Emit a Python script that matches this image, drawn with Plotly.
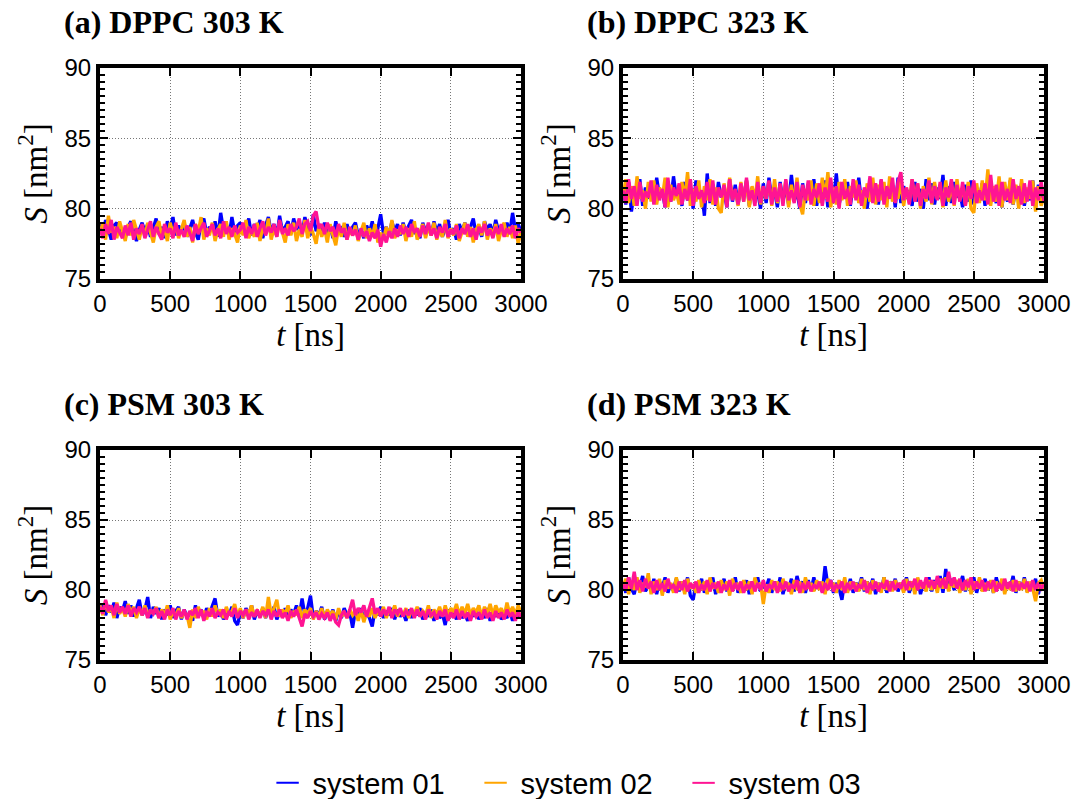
import plotly.graph_objects as go

# Sampling times of the area trajectories (ns)
t_ns = list(range(0, 3001, 20))

# ---- (a) DPPC 303 K : membrane area S [nm^2] ----
dppc303_sys01 = [
    78.9, 78.1, 79.2, 78.4, 77.8, 78.8, 79.0, 78.2, 78.6, 77.9,
    78.7, 79.1, 78.3, 77.7, 78.5, 79.0, 78.4, 78.9, 78.0, 78.6,
    79.3, 78.2, 78.7, 77.9, 79.1, 78.5, 79.4, 78.1, 78.8, 78.3,
    79.0, 78.0, 78.6, 79.2, 78.3, 77.8, 78.9, 79.3, 78.2, 78.7,
    78.4, 79.1, 78.0, 79.7, 78.5, 78.9, 78.1, 79.4, 78.3, 78.8,
    79.0, 78.2, 78.7, 79.3, 78.1, 78.9, 78.5, 79.2, 77.9, 78.8,
    79.4, 78.3, 78.9, 78.1, 79.5, 78.4, 78.7, 79.1, 78.2, 79.3,
    78.5, 79.0, 78.3, 79.4, 78.6, 78.1, 79.6, 78.4, 78.9, 78.2,
    79.0, 78.3, 78.8, 77.9, 79.1, 78.4, 78.6, 78.0, 78.9, 78.2,
    78.7, 79.0, 78.1, 78.5, 77.9, 78.8, 78.3, 79.1, 78.0, 78.6,
    79.6, 78.2, 78.7, 78.0, 79.1, 78.4, 78.9, 78.1, 79.0, 78.3,
    78.8, 79.2, 78.2, 78.6, 77.9, 79.0, 78.4, 78.8, 78.1, 79.1,
    78.3, 78.9, 78.0, 78.7, 79.2, 78.2, 78.6, 77.8, 78.9, 78.4,
    79.0, 78.1, 78.8, 79.3, 78.2, 78.7, 78.0, 79.1, 78.5, 78.9,
    78.2, 79.2, 78.4, 78.8, 78.1, 79.0, 78.3, 79.7, 78.5, 78.9,
    78.4]
dppc303_sys02 = [
    78.2, 79.0, 77.8, 79.5, 78.3, 78.7, 77.9, 79.1, 78.4, 77.7,
    78.9, 78.1, 79.2, 78.5, 77.8, 78.8, 78.0, 79.0, 78.3, 77.6,
    78.7, 79.1, 78.0, 78.6, 77.7, 79.0, 78.2, 78.8, 77.9, 78.5,
    79.2, 78.0, 78.7, 77.6, 78.9, 78.3, 79.4, 77.8, 78.6, 78.1,
    79.0, 77.7, 78.5, 78.9, 78.0, 79.1, 77.8, 78.6, 78.2, 77.6,
    78.8, 78.1, 79.2, 77.9, 78.5, 78.0, 79.0, 77.7, 78.7, 78.2,
    79.3, 77.8, 78.6, 78.0, 79.1, 78.3, 77.6, 78.9, 78.1, 79.0,
    77.7, 78.5, 78.0, 79.2, 77.9, 78.7, 78.2, 77.5, 78.8, 78.0,
    78.6, 77.6, 78.9, 78.1, 77.4, 78.7, 78.0, 79.0, 77.8, 78.5,
    78.1, 78.8, 77.7, 78.4, 79.0, 77.9, 78.6, 78.0, 78.9, 77.6,
    78.3, 77.8, 78.7, 78.0, 79.2, 77.9, 78.5, 78.2, 78.9, 77.7,
    78.6, 78.0, 79.1, 77.8, 78.4, 78.9, 77.9, 78.7, 78.1, 79.0,
    77.8, 78.5, 78.0, 79.2, 77.9, 78.6, 78.1, 78.9, 77.7, 78.4,
    79.0, 78.0, 78.7, 77.6, 78.5, 78.9, 78.1, 79.1, 77.8, 78.6,
    78.2, 78.9, 77.7, 78.5, 79.0, 78.0, 78.7, 77.9, 78.8, 77.5,
    78.4]
dppc303_sys03 = [
    78.6, 77.9, 78.9, 78.2, 79.2, 77.8, 78.7, 78.3, 77.9, 78.8,
    78.1, 79.0, 77.8, 78.6, 78.2, 78.9, 77.9, 78.5, 79.1, 78.0,
    78.7, 78.2, 77.8, 78.9, 78.3, 78.6, 77.9, 79.0, 78.1, 78.5,
    78.0, 78.8, 78.3, 77.7, 78.9, 78.2, 78.6, 79.0, 78.0, 78.5,
    78.9, 78.1, 78.6, 77.9, 79.1, 78.2, 78.7, 78.0, 78.8, 78.3,
    78.5, 79.0, 77.9, 78.7, 78.2, 78.9, 78.0, 78.6, 79.1, 78.1,
    78.7, 78.3, 78.9, 78.0, 79.2, 78.2, 78.6, 78.1, 78.9, 78.4,
    78.7, 79.3, 78.2, 78.9, 79.1, 78.4, 79.5, 79.8, 78.6, 78.9,
    78.2, 79.0, 78.4, 78.7, 78.0, 78.9, 78.3, 78.6, 77.8, 78.7,
    78.1, 78.5, 77.8, 78.6, 78.0, 78.4, 77.7, 78.3, 77.9, 78.5,
    77.3, 78.2, 77.6, 78.4, 77.9, 78.6, 78.0, 78.8, 78.2, 78.7,
    78.0, 78.9, 78.3, 78.6, 78.0, 78.8, 78.2, 79.0, 78.1, 78.6,
    77.9, 78.7, 78.3, 78.9, 78.0, 78.5, 78.2, 78.8, 77.9, 78.6,
    78.2, 78.9, 78.0, 78.6, 77.8, 78.7, 78.3, 78.9, 78.1, 78.5,
    77.9, 78.7, 78.2, 78.9, 78.0, 78.6, 78.2, 78.8, 77.9, 78.6,
    78.3]

# ---- (b) DPPC 323 K ----
dppc323_sys01 = [
    81.4, 80.3, 81.9, 79.8, 81.2, 80.6, 82.1, 80.2, 81.5, 80.7,
    81.8, 80.4, 82.2, 80.9, 81.3, 80.1, 81.7, 80.5, 82.3, 80.8,
    81.1, 80.2, 81.9, 80.6, 81.4, 80.0, 82.0, 80.7, 81.2, 79.5,
    82.5, 80.4, 81.6, 80.2, 81.9, 80.8, 81.3, 80.1, 82.1, 80.5,
    81.7, 80.3, 81.4, 80.9, 82.0, 80.2, 81.5, 80.6, 81.2, 80.0,
    81.8, 80.4, 82.2, 80.7, 81.3, 80.1, 81.9, 80.5, 81.6, 80.3,
    82.4, 80.6, 81.2, 80.0, 81.8, 80.4, 81.5, 80.8, 82.1, 80.2,
    81.4, 80.5, 82.0, 80.1, 81.7, 80.6, 82.5, 80.3, 81.3, 80.7,
    81.9, 80.2, 81.6, 80.8, 82.2, 80.4, 81.3, 80.0, 81.8, 80.6,
    81.5, 80.3, 82.0, 80.5, 81.2, 80.9, 81.7, 80.1, 82.2, 80.4,
    81.6, 80.7, 81.3, 80.2, 81.9, 80.5, 81.4, 80.0, 82.1, 80.6,
    81.8, 80.3, 81.5, 80.7, 82.4, 80.2, 81.6, 80.4, 81.9, 80.8,
    81.2, 80.1, 81.7, 80.5, 82.0, 80.3, 81.4, 80.7, 81.8, 80.2,
    82.1, 80.6, 81.3, 80.4, 81.9, 80.1, 81.6, 80.5, 82.0, 80.3,
    81.5, 80.7, 81.8, 80.2, 81.4, 80.6, 82.0, 80.1, 81.7, 80.4,
    81.2]
dppc323_sys02 = [
    80.8, 82.1, 80.4, 81.6, 80.2, 82.3, 80.7, 81.3, 80.0, 81.9,
    80.5, 82.0, 80.3, 81.5, 80.8, 82.2, 80.1, 81.7, 80.6, 81.2,
    80.3, 81.9, 80.7, 82.6, 80.2, 81.4, 80.5, 82.0, 80.1, 81.6,
    80.6, 82.1, 80.3, 81.5, 80.0, 79.7, 81.8, 80.4, 82.2, 80.7,
    81.3, 80.2, 81.9, 80.5, 82.0, 80.1, 81.6, 80.6, 82.3, 80.3,
    81.5, 80.7, 81.9, 80.2, 82.1, 80.4, 81.3, 80.8, 82.0, 80.1,
    81.7, 80.5, 82.2, 80.3, 79.6, 81.4, 80.6, 82.0, 80.2, 81.8,
    80.4, 82.2, 80.7, 82.6, 80.1, 81.5, 80.3, 81.9, 80.6, 82.1,
    80.2, 81.6, 80.8, 82.0, 80.4, 81.3, 80.0, 81.8, 80.5, 82.2,
    80.3, 81.7, 80.6, 81.9, 80.1, 82.3, 80.5, 81.4, 80.7, 82.0,
    80.2, 81.5, 80.4, 82.1, 80.6, 81.8, 80.0, 81.6, 80.5, 82.2,
    80.3, 81.9, 80.7, 81.4, 80.1, 82.0, 80.5, 81.7, 80.2, 82.1,
    80.6, 81.5, 80.3, 81.9, 80.0, 79.7, 81.8, 80.4, 82.0, 80.6,
    82.8, 80.2, 81.6, 80.5, 82.3, 80.1, 81.9, 80.6, 82.2, 80.3,
    81.7, 80.0, 82.1, 80.4, 81.5, 80.7, 82.0, 79.8, 81.6, 80.2,
    80.9]
dppc323_sys03 = [
    81.3, 80.4, 82.1, 80.7, 81.6, 80.2, 81.9, 80.5, 81.2, 80.8,
    82.0, 80.3, 81.7, 80.6, 81.4, 80.1, 82.2, 80.5, 81.5, 80.9,
    81.8, 80.3, 81.4, 80.6, 82.1, 80.2, 81.6, 80.7, 81.3, 80.4,
    81.9, 80.5, 82.0, 80.3, 81.5, 80.8, 81.7, 80.1, 82.1, 80.6,
    81.4, 80.3, 81.8, 80.5, 82.2, 80.6, 81.3, 80.2, 81.9, 80.4,
    81.6, 80.7, 82.0, 80.3, 81.5, 80.5, 81.8, 80.2, 82.1, 80.6,
    81.3, 80.4, 81.9, 80.1, 81.7, 80.6, 82.0, 80.3, 81.4, 80.8,
    81.8, 80.2, 81.5, 80.5, 82.2, 80.4, 81.6, 80.0, 81.9, 80.7,
    81.4, 80.3, 82.1, 80.6, 81.7, 80.2, 81.5, 80.8, 82.3, 80.4,
    81.8, 80.5, 82.1, 80.3, 81.6, 80.7, 82.2, 80.4, 81.9, 82.6,
    80.6, 81.5, 80.3, 82.1, 80.5, 81.8, 80.2, 81.4, 80.7, 82.0,
    80.4, 81.6, 80.6, 81.9, 80.2, 81.5, 80.8, 82.1, 80.3, 81.7,
    80.5, 81.9, 80.2, 81.6, 80.7, 82.0, 80.4, 81.3, 80.6, 81.8,
    80.3, 82.4, 80.5, 81.7, 80.2, 81.9, 80.6, 81.4, 80.4, 82.1,
    80.7, 81.6, 80.3, 81.8, 80.5, 82.0, 80.2, 81.5, 80.6, 81.9,
    80.5]

# ---- (c) PSM 303 K ----
psm303_sys01 = [
    78.6, 79.0, 78.2, 78.9, 78.4, 79.1, 78.0, 78.8, 78.5, 79.2,
    78.3, 78.9, 78.1, 78.7, 79.3, 78.2, 78.6, 79.5, 78.0, 78.8,
    78.3, 78.7, 77.9, 78.6, 78.2, 78.9, 78.0, 78.5, 78.8, 77.9,
    78.6, 78.1, 78.4, 77.8, 78.9, 78.2, 78.6, 78.0, 78.7, 78.3,
    78.9, 79.4, 78.1, 78.6, 77.9, 78.5, 78.2, 78.8, 77.8, 77.5,
    78.4, 78.0, 78.7, 78.2, 78.9, 77.9, 78.5, 78.1, 78.7, 78.0,
    78.6, 78.2, 78.8, 77.9, 78.4, 78.1, 78.7, 78.0, 78.6, 78.3,
    78.9, 78.1, 79.4, 78.2, 78.7, 79.6, 78.0, 78.5, 78.2, 78.8,
    77.9, 78.4, 78.1, 78.6, 77.8, 78.5, 78.0, 78.7, 78.2, 78.4,
    77.3, 78.5, 78.1, 78.7, 77.9, 78.4, 78.0, 77.4, 78.6, 78.2,
    78.8, 78.0, 78.5, 78.2, 78.7, 77.9, 78.6, 78.1, 78.4, 77.8,
    78.6, 78.0, 78.5, 78.2, 78.7, 77.9, 78.4, 78.1, 78.6, 77.8,
    78.5, 78.0, 78.3, 77.5, 78.6, 78.1, 78.4, 77.9, 78.6, 78.0,
    78.3, 77.8, 78.5, 78.1, 78.6, 77.9, 78.4, 78.0, 78.7, 77.8,
    78.4, 78.1, 78.6, 77.9, 78.3, 78.0, 78.5, 77.8, 78.4, 78.1,
    78.2]
psm303_sys02 = [
    78.9, 78.2, 79.2, 78.4, 78.8, 78.0, 79.1, 78.3, 78.7, 78.1,
    79.0, 78.4, 78.8, 78.0, 78.7, 78.2, 78.9, 78.1, 78.6, 78.3,
    78.8, 78.0, 78.6, 78.2, 78.9, 77.9, 78.5, 78.1, 78.7, 78.0,
    78.4, 78.2, 77.3, 78.6, 78.0, 78.8, 78.2, 78.5, 77.9, 78.7,
    78.1, 78.9, 78.3, 78.6, 78.0, 78.8, 78.2, 78.5, 79.0, 78.1,
    78.7, 78.0, 78.6, 78.3, 78.9, 78.1, 78.5, 78.2, 78.8, 78.0,
    79.5, 78.2, 78.7, 79.3, 78.1, 78.6, 78.3, 78.9, 78.0, 78.5,
    78.2, 78.8, 78.0, 78.6, 78.3, 78.7, 77.9, 78.5, 78.1, 78.7,
    78.0, 78.6, 78.2, 78.5, 77.9, 78.7, 78.1, 78.4, 78.0, 78.6,
    78.2, 78.5, 77.8, 78.6, 77.7, 78.4, 78.1, 78.7, 78.0, 78.5,
    78.2, 78.8, 78.0, 78.6, 78.3, 78.9, 78.1, 78.5, 78.2, 78.7,
    78.0, 78.6, 78.3, 78.8, 78.1, 78.5, 78.2, 78.9, 78.0, 78.6,
    78.3, 78.8, 78.1, 78.9, 78.2, 78.7, 78.4, 79.0, 78.2, 78.8,
    78.3, 79.0, 78.2, 78.7, 78.4, 78.9, 78.1, 78.8, 78.3, 79.0,
    78.2, 78.9, 78.4, 78.7, 78.1, 79.1, 78.3, 78.8, 78.2, 78.9,
    78.4]
psm303_sys03 = [
    78.8, 78.3, 79.3, 78.5, 78.9, 78.2, 79.0, 78.4, 78.8, 78.3,
    78.9, 78.1, 78.7, 78.4, 78.8, 78.2, 78.7, 78.0, 78.6, 78.3,
    78.7, 78.0, 78.5, 77.9, 78.6, 78.2, 78.7, 77.9, 78.5, 78.1,
    78.6, 77.9, 78.5, 78.2, 78.7, 78.0, 78.6, 77.8, 78.5, 78.1,
    78.7, 78.0, 78.4, 78.2, 78.6, 77.9, 78.5, 78.1, 78.7, 78.0,
    78.5, 78.2, 78.6, 77.9, 78.4, 78.1, 78.6, 78.0, 78.5, 78.2,
    78.6, 77.9, 78.5, 78.1, 78.6, 78.0, 78.4, 77.8, 78.5, 78.1,
    78.6, 77.9, 77.4, 78.3, 78.0, 78.5, 78.1, 78.4, 77.9, 78.3,
    78.0, 78.4, 77.8, 78.3, 77.7, 77.5, 78.2, 78.5, 78.0, 78.6,
    79.3, 78.2, 78.7, 78.4, 78.9, 78.1, 78.8, 79.4, 78.3, 78.7,
    78.1, 78.6, 78.2, 78.8, 78.0, 78.6, 78.3, 78.7, 78.1, 78.5,
    78.2, 78.7, 78.0, 78.6, 78.1, 78.5, 77.9, 78.6, 78.2, 78.4,
    77.9, 78.5, 78.1, 78.6, 77.8, 78.4, 78.0, 78.6, 77.9, 78.5,
    78.0, 78.4, 77.8, 78.5, 78.1, 78.4, 77.9, 78.6, 78.0, 78.4,
    77.8, 78.5, 78.0, 78.4, 77.9, 78.6, 78.1, 78.4, 77.8, 78.5,
    78.0]

# ---- (d) PSM 323 K ----
psm323_sys01 = [
    80.6, 79.8, 80.9, 80.1, 79.7, 80.7, 80.2, 81.0, 79.9, 80.5,
    80.0, 80.8, 79.7, 80.6, 80.2, 80.9, 79.8, 80.4, 80.1, 80.8,
    79.9, 80.6, 80.0, 80.9, 79.6, 79.3, 80.5, 80.1, 80.8, 79.8,
    80.6, 80.0, 80.9, 79.7, 80.5, 80.2, 80.8, 79.9, 80.6, 80.1,
    80.9, 79.8, 80.5, 80.1, 80.7, 79.7, 80.6, 80.0, 80.9, 79.9,
    80.4, 80.2, 80.8, 79.8, 80.6, 80.0, 80.9, 79.7, 80.5, 80.1,
    80.8, 79.9, 81.0, 80.2, 80.6, 79.8, 80.7, 80.0, 80.9, 80.1,
    80.5, 79.9, 81.7, 80.3, 80.7, 79.8, 80.5, 80.1, 79.3, 80.6,
    80.0, 80.8, 79.8, 80.5, 80.2, 80.9, 79.9, 80.6, 80.1, 80.8,
    79.7, 80.5, 80.0, 80.9, 79.8, 80.6, 80.2, 80.8, 79.9, 80.5,
    80.1, 80.9, 79.8, 80.6, 80.0, 80.8, 79.7, 80.5, 80.2, 80.9,
    79.9, 80.7, 80.1, 81.0, 79.8, 81.5, 80.2, 80.8, 80.0, 80.6,
    80.3, 81.0, 79.9, 80.7, 80.1, 80.9, 79.8, 80.6, 80.2, 80.8,
    80.0, 80.6, 79.8, 80.9, 80.1, 80.7, 79.9, 80.5, 80.2, 81.0,
    79.8, 80.6, 80.1, 80.9, 79.9, 80.5, 80.2, 80.8, 79.7, 80.6,
    80.3]
psm323_sys02 = [
    80.2, 80.8, 79.7, 80.6, 80.0, 80.9, 79.8, 80.5, 80.2, 81.2,
    79.7, 80.6, 80.0, 80.8, 79.6, 80.7, 80.1, 80.5, 79.8, 80.9,
    80.0, 80.6, 79.7, 80.8, 80.1, 80.4, 79.8, 80.7, 80.0, 80.6,
    79.7, 80.9, 80.1, 80.5, 79.8, 80.7, 80.0, 80.6, 79.6, 80.8,
    80.1, 80.5, 79.8, 80.7, 80.0, 80.6, 79.7, 80.9, 80.2, 80.5,
    79.0, 80.4, 79.8, 80.7, 80.0, 80.6, 79.9, 80.8, 80.1, 80.5,
    79.7, 80.7, 80.0, 80.6, 79.8, 80.9, 80.1, 80.5, 79.9, 80.7,
    80.0, 80.6, 79.7, 80.8, 80.1, 80.5, 79.8, 80.7, 80.0, 80.9,
    79.8, 80.6, 80.1, 80.5, 79.9, 80.8, 80.0, 80.6, 79.7, 80.7,
    80.1, 80.5, 79.8, 80.9, 80.0, 80.6, 79.9, 80.7, 80.2, 80.5,
    79.8, 80.8, 80.0, 80.6, 79.7, 80.9, 80.1, 80.5, 79.9, 80.7,
    80.0, 80.6, 79.8, 80.8, 80.1, 80.9, 79.9, 80.6, 80.2, 80.7,
    79.8, 80.5, 80.0, 80.8, 79.7, 80.6, 80.1, 80.9, 79.9, 80.5,
    80.0, 80.7, 79.8, 80.6, 80.1, 80.8, 79.7, 80.5, 80.0, 80.7,
    79.9, 80.6, 80.0, 80.8, 79.8, 80.6, 80.1, 79.2, 80.5, 80.7,
    80.0]
psm323_sys03 = [
    80.4, 80.0, 80.9, 80.1, 81.3, 80.0, 80.7, 79.9, 80.8, 80.1,
    80.6, 79.8, 80.7, 80.0, 80.5, 79.9, 80.8, 80.1, 80.4, 79.8,
    80.6, 80.0, 80.7, 79.9, 80.5, 80.1, 80.6, 79.8, 80.4, 80.0,
    80.7, 79.9, 80.5, 80.1, 80.6, 79.8, 80.4, 80.0, 80.7, 79.9,
    80.5, 80.0, 80.6, 79.8, 80.4, 80.1, 80.6, 79.9, 80.5, 80.0,
    80.7, 79.9, 80.4, 80.1, 80.6, 79.8, 80.5, 80.0, 80.6, 79.9,
    80.4, 80.1, 80.7, 79.8, 80.5, 80.0, 80.6, 79.9, 80.4, 80.1,
    80.6, 79.8, 80.5, 80.0, 80.7, 79.9, 80.4, 80.1, 80.6, 79.8,
    80.5, 80.0, 80.6, 79.9, 80.4, 80.1, 80.7, 79.8, 80.5, 80.0,
    80.6, 79.9, 80.5, 80.1, 80.7, 79.9, 80.6, 80.0, 80.5, 80.1,
    80.7, 80.0, 80.6, 80.2, 80.8, 80.0, 80.7, 80.1, 80.9, 80.2,
    80.7, 80.1, 81.0, 80.2, 80.8, 80.1, 81.3, 80.3, 80.9, 80.1,
    80.8, 80.0, 80.7, 80.2, 80.9, 80.0, 80.6, 80.1, 80.7, 79.9,
    80.6, 80.1, 80.7, 79.9, 80.5, 80.0, 80.8, 80.1, 80.6, 79.9,
    80.7, 80.0, 80.5, 80.1, 80.6, 79.9, 80.7, 80.0, 80.5, 80.1,
    80.4]

panel_titles = ["(a) DPPC 303 K", "(b) DPPC 323 K", "(c) PSM 303 K", "(d) PSM 323 K"]
series_names = ["system 01", "system 02", "system 03"]
series_colors = ["#0000FF", "#FFA500", "#FF1493"]
panels = [
    [dppc303_sys01, dppc303_sys02, dppc303_sys03],
    [dppc323_sys01, dppc323_sys02, dppc323_sys03],
    [psm303_sys01, psm303_sys02, psm303_sys03],
    [psm323_sys01, psm323_sys02, psm323_sys03],
]

W, H = 1076, 799
# plot frames in pixels: (left, right, top, bottom)
boxes = [(100, 521, 68, 279), (623, 1044, 68, 279),
         (100, 521, 450, 660), (623, 1044, 450, 660)]

SANS = "Liberation Sans, Arial, sans-serif"
SERIF = "Liberation Serif, Times New Roman, serif"

fig = go.Figure()
for i, series in enumerate(panels):
    ax = "" if i == 0 else str(i + 1)
    for j, vals in enumerate(series):
        fig.add_trace(go.Scatter(
            x=t_ns, y=vals, mode="lines",
            line=dict(color=series_colors[j], width=3.3),
            name=series_names[j], legendgroup=series_names[j],
            showlegend=False,
            xaxis="x" + ax, yaxis="y" + ax,
        ))

# legend keys: short horizontal dashes, one per system
for j, name in enumerate(series_names):
    fig.add_trace(go.Scatter(
        x=[None], y=[None], mode="markers", name=name, legendgroup=name,
        marker=dict(symbol="line-ew", size=20, color=series_colors[j],
                    line=dict(width=2, color=series_colors[j])),
        showlegend=True,
    ))

layout = dict(
    width=W, height=H,
    margin=dict(l=0, r=0, t=0, b=0, autoexpand=False),
    paper_bgcolor="white", plot_bgcolor="white",
    showlegend=True,
    legend=dict(orientation="h", x=0.534, xanchor="center", y=1 - 783 / H,
                yanchor="middle", font=dict(family=SANS, size=29, color="black"),
                bgcolor="rgba(0,0,0,0)", entrywidth=153, itemwidth=40,
                itemsizing="trace"),
    annotations=[],
)

for i, (l, r, t, b) in enumerate(boxes):
    ax = "" if i == 0 else str(i + 1)
    common = dict(
        showline=True, linewidth=4, linecolor="black", mirror="allticks",
        ticks="inside", ticklen=8, tickwidth=2, tickcolor="black",
        showgrid=True, gridcolor="#777777", gridwidth=1, griddash="1px,2px",
        zeroline=False, automargin=False,
        tickfont=dict(family=SANS, size=24, color="black"),
    )
    layout["xaxis" + ax] = dict(
        common, domain=[l / W, r / W], range=[0, 3000], tick0=0, dtick=500,
        anchor="y" + ax,
        title=dict(text="<i>t</i> [ns]", font=dict(family=SERIF, size=33, color="black"),
                   standoff=8),
    )
    layout["yaxis" + ax] = dict(
        common, domain=[1 - b / H, 1 - t / H], range=[75, 90], tick0=75, dtick=5,
        anchor="x" + ax,
        minor=dict(ticks="inside", dtick=0.5, ticklen=5, tickwidth=1.5,
                   tickcolor="black", showgrid=False),
        title=dict(text="<i>S</i> [nm<sup>2</sup>]",
                   font=dict(family=SERIF, size=33, color="black"), standoff=8),
    )
    layout["annotations"].append(dict(
        text="<b>%s</b>" % panel_titles[i], xref="paper", yref="paper",
        x=(l - 38) / W, y=1 - (t - 46) / H, xanchor="left", yanchor="middle",
        showarrow=False, font=dict(family=SERIF, size=32, color="black"),
    ))

fig.update_layout(**layout)
fig.write_html("out.html")
